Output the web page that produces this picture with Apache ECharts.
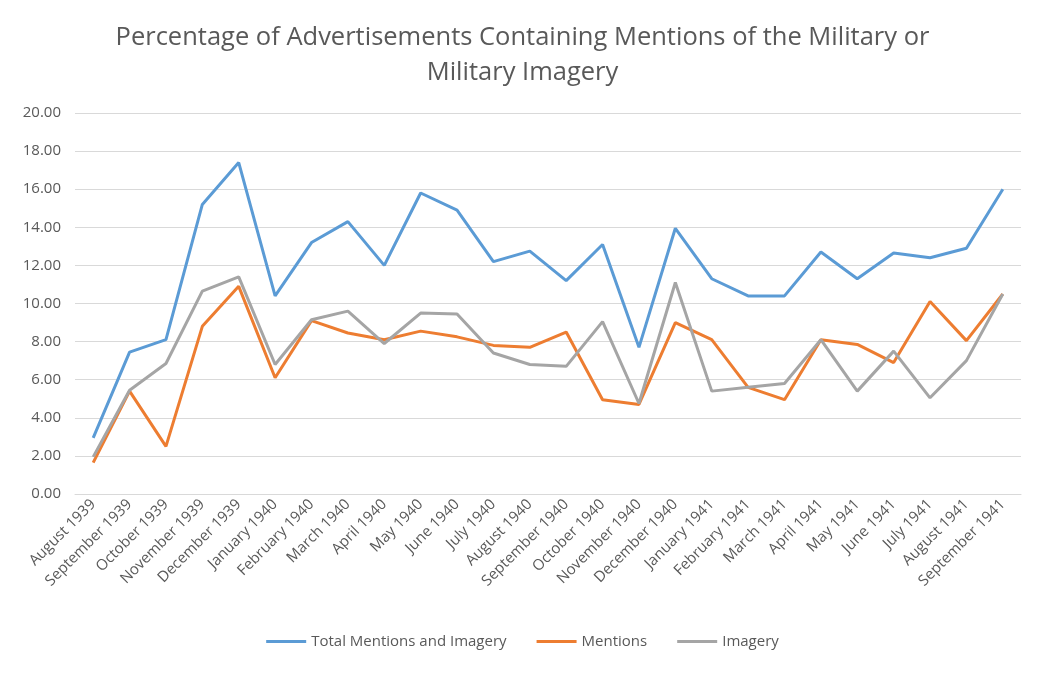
<!DOCTYPE html>
<html><head><meta charset="utf-8">
<script src="https://cdn.jsdelivr.net/npm/echarts@6/dist/echarts.min.js"></script>
<style>html,body{margin:0;padding:0;background:#fff}#c{width:1045px;height:674px}</style>
</head><body><div id="c"></div>
<script>
const categories=["August 1939","September 1939","October 1939","November 1939","December 1939","January 1940","February 1940","March 1940","April 1940","May 1940","June 1940","July 1940","August 1940","September 1940","October 1940","November 1940","December 1940","January 1941","February 1941","March 1941","April 1941","May 1941","June 1941","July 1941","August 1941","September 1941"];
const total=[2.95,7.45,8.1,15.2,17.4,10.4,13.2,14.3,12.0,15.8,14.9,12.2,12.75,11.2,13.1,7.7,13.95,11.3,10.4,10.4,12.7,11.3,12.65,12.4,12.9,16.0];
const mentions=[1.65,5.4,2.5,8.8,10.9,6.1,9.1,8.45,8.1,8.55,8.25,7.8,7.7,8.5,4.95,4.7,9.0,8.1,5.6,4.95,8.1,7.85,6.9,10.1,8.05,10.5];
const imagery=[1.95,5.45,6.85,10.65,11.4,6.8,9.15,9.6,7.9,9.5,9.45,7.4,6.8,6.7,9.05,4.75,11.1,5.4,5.6,5.8,8.1,5.4,7.5,5.05,7.0,10.5];
const names=["Total Mentions and Imagery","Mentions","Imagery"];
const colors=["#5b9bd5","#ed7d31","#a5a5a5"];
const ch=echarts.init(document.getElementById('c'));
ch.setOption({
 animation:false,
 title:{text:"Percentage of Advertisements Containing Mentions of the Military or\nMilitary Imagery",left:'center',top:15,textStyle:{fontFamily:'Open Sans',fontWeight:'normal',fontSize:25.5,color:'#595959',lineHeight:35}},
 legend:{bottom:20,itemWidth:40,itemGap:30,icon:'rect',itemHeight:3,textStyle:{fontFamily:'Open Sans',fontSize:15,color:'#595959'},data:names},
 grid:{left:75,right:24,top:113,bottom:180,containLabel:false},
 xAxis:{type:'category',data:categories,boundaryGap:true,axisLine:{lineStyle:{color:'#d9d9d9'}},axisTick:{show:false},
  axisLabel:{rotate:45,interval:0,fontFamily:'Open Sans',fontSize:15,color:'#595959'}},
 yAxis:{type:'value',min:0,max:20,interval:2,axisLine:{show:false},axisTick:{show:false},
  splitLine:{lineStyle:{color:'#d9d9d9'}},axisLabel:{formatter:v=>v.toFixed(2),fontFamily:'Open Sans',fontSize:15,color:'#595959',margin:14}},
 series:[total,mentions,imagery].map((d,i)=>({name:names[i],type:'line',data:d,symbol:'none',lineStyle:{width:3,color:colors[i]},itemStyle:{color:colors[i]}}))
});
</script></body></html>
